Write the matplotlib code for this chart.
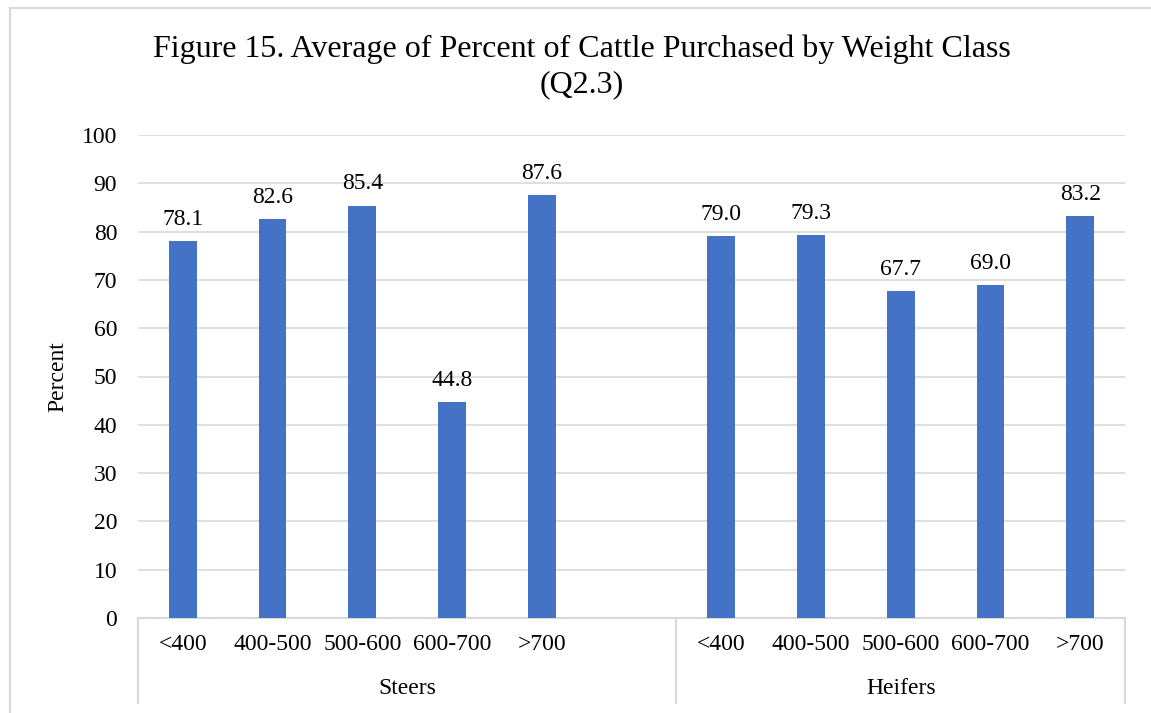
import matplotlib.pyplot as plt
from matplotlib.lines import Line2D

plt.rcParams['font.family'] = ['Liberation Serif', 'DejaVu Serif']

weight_classes = ["<400", "400-500", "500-600", "600-700", ">700"]
steers = [78.1, 82.6, 85.4, 44.8, 87.6]
heifers = [79.0, 79.3, 67.7, 69.0, 83.2]
groups = ["Steers", "Heifers"]

BAR_COLOR = "#4472C4"
GRID_COLOR = "#D9D9D9"
W, H = 1151, 713
FS = 17

fig = plt.figure(figsize=(W / 100, H / 100), dpi=100)

# plot area in pixel terms
left, right, bottom, top = 138, 1125, 618, 135
ax = fig.add_axes([left / W, 1 - bottom / H, (right - left) / W, (bottom - top) / H])

# steers take six slots (last one empty), heifers five
labels = weight_classes + [""] + weight_classes
values = steers + [None] + heifers
xs = list(range(len(labels)))

for x, v in zip(xs, values):
    if v is None:
        continue
    ax.bar(x, v, width=0.31, color=BAR_COLOR, zorder=3)
    ax.annotate(f"{v:.1f}", (x, v), xytext=(0, 8), textcoords="offset points",
                ha="center", va="bottom", fontsize=FS)

ax.set_xlim(-0.5, len(labels) - 0.5)
ax.set_ylim(0, 100)
ax.set_yticks(range(0, 101, 10))
ax.tick_params(axis="y", length=0, labelsize=FS, pad=15)
ax.set_xticks([])
for y in range(10, 101, 10):
    ax.axhline(y, color=GRID_COLOR, lw=1.2, zorder=1)
for s in ax.spines.values():
    s.set_visible(False)

# multi-level category axis
trans = ax.get_xaxis_transform()
px = 1 / (bottom - top)
ax.plot([-0.5, len(labels) - 0.5], [0, 0], color=GRID_COLOR, lw=1.5,
        transform=trans, clip_on=False, zorder=2)
for xb in [-0.5, 5.5, len(labels) - 0.5]:
    ax.plot([xb, xb], [0, -85 * px], color=GRID_COLOR, lw=1.5,
            transform=trans, clip_on=False)
for x, lab in zip(xs, labels):
    ax.text(x, -27 * px, lab, transform=trans, ha="center", va="center",
            fontsize=FS)
ax.text(2.5, -70 * px, groups[0], transform=trans, ha="center", va="center",
        fontsize=FS)
ax.text(8, -70 * px, groups[1], transform=trans, ha="center", va="center",
        fontsize=FS)

fig.text(58 / W, 1 - 377 / H, "Percent", rotation=90, ha="center", va="center",
         fontsize=FS)
fig.text(582 / W, 1 - 67 / H,
         "Figure 15. Average of Percent of Cattle Purchased by Weight Class\n(Q2.3)",
         ha="center", va="center", fontsize=23, linespacing=1.25)

# chart area border
fig.add_artist(Line2D([10 / W, 10 / W], [0, 1 - 8 / H], color=GRID_COLOR, lw=1.5))
fig.add_artist(Line2D([10 / W, 1], [1 - 8 / H, 1 - 8 / H], color=GRID_COLOR, lw=1.5))

fig.savefig("out.png", dpi=100)
